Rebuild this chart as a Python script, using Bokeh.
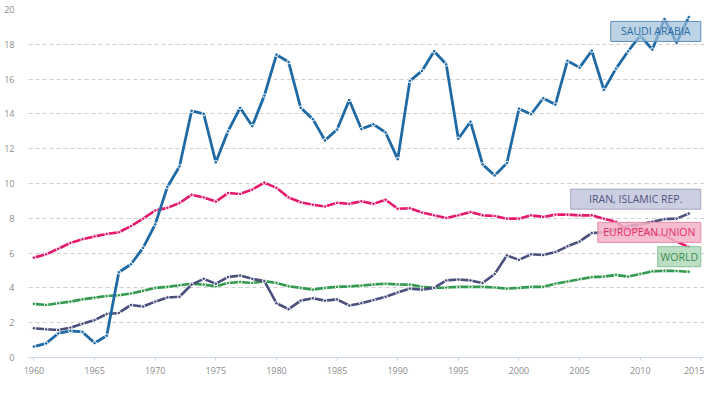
from bokeh.plotting import figure
from bokeh.models import Range1d, SingleIntervalTicker, FixedTicker
from bokeh.embed import file_html
from bokeh.resources import INLINE
from bokeh.core.properties import value

years = list(range(1960, 2015))

saudi_arabia = [0.63, 0.81, 1.38, 1.53, 1.47, 0.83, 1.25, 4.9, 5.36, 6.3,
                7.65, 9.8, 10.98, 14.17, 14.0, 11.22, 13.0, 14.35, 13.3, 15.05,
                17.4, 16.98, 14.35, 13.7, 12.48, 13.1, 14.8, 13.13, 13.4, 12.93,
                11.4, 15.9, 16.47, 17.6, 16.85, 12.57, 13.55, 11.1, 10.46, 11.17,
                14.3, 13.98, 14.9, 14.54, 17.05, 16.66, 17.63, 15.38, 16.6, 17.6,
                18.5, 17.7, 19.45, 18.08, 19.56]

european_union = [5.74, 5.93, 6.25, 6.58, 6.8, 6.96, 7.1, 7.2, 7.55, 7.98,
                  8.45, 8.6, 8.88, 9.35, 9.2, 8.96, 9.45, 9.4, 9.65, 10.05,
                  9.75, 9.2, 8.92, 8.78, 8.68, 8.89, 8.83, 8.98, 8.83, 9.07,
                  8.55, 8.58, 8.33, 8.17, 8.02, 8.17, 8.36, 8.17, 8.13, 7.98,
                  7.98, 8.17, 8.08, 8.21, 8.21, 8.17, 8.17, 7.98, 7.8, 7.3,
                  7.45, 7.1, 7.0, 6.65, 6.36]

iran = [1.68, 1.62, 1.58, 1.71, 1.94, 2.15, 2.5, 2.56, 3.02, 2.93,
        3.21, 3.45, 3.49, 4.19, 4.52, 4.24, 4.62, 4.71, 4.52, 4.39,
        3.12, 2.78, 3.27, 3.4, 3.27, 3.34, 2.99, 3.12, 3.3, 3.49,
        3.74, 3.96, 3.9, 4.0, 4.43, 4.48, 4.43, 4.28, 4.8, 5.87,
        5.61, 5.93, 5.89, 6.06, 6.39, 6.67, 7.15, 7.2, 7.35, 7.55,
        7.65, 7.8, 7.95, 7.98, 8.27]

world = [3.08, 3.02, 3.12, 3.21, 3.34, 3.44, 3.53, 3.58, 3.68, 3.83,
         4.0, 4.06, 4.15, 4.24, 4.19, 4.09, 4.28, 4.34, 4.28, 4.39,
         4.28, 4.09, 4.0, 3.9, 4.0, 4.06, 4.09, 4.13, 4.2, 4.24,
         4.2, 4.19, 4.06, 4.0, 4.02, 4.06, 4.06, 4.06, 4.02, 3.96,
         4.0, 4.06, 4.06, 4.24, 4.37, 4.5, 4.62, 4.65, 4.75, 4.65,
         4.8, 4.95, 4.99, 4.97, 4.93]

series_names = ["SAUDI ARABIA", "IRAN, ISLAMIC REP.", "EUROPEAN UNION", "WORLD"]
y_ticks = [0, 2, 4, 6, 8, 10, 12, 14, 16, 18, 20]

FONT = "Open Sans"

p = figure(width=704, height=378, output_backend="svg", toolbar_location=None,
           x_range=Range1d(1959.55, 2015.3), y_range=Range1d(0, 20),
           min_border_left=28, min_border_right=0, min_border_top=9,
           min_border_bottom=21)
p.outline_line_color = None
p.background_fill_color = "white"
p.border_fill_color = "white"

# grid
p.xgrid.visible = False
p.ygrid.ticker = FixedTicker(ticks=y_ticks)
p.ygrid.grid_line_color = "#cfcfcf"
p.ygrid.grid_line_dash = "4 3"
p.ygrid.grid_line_width = 1

# axes
p.yaxis.ticker = FixedTicker(ticks=y_ticks)
p.yaxis.axis_line_color = None
p.yaxis.major_tick_line_color = None
p.yaxis.minor_tick_line_color = None
p.yaxis.major_label_text_color = "#8c8c8c"
p.yaxis.major_label_text_font = FONT
p.yaxis.major_label_text_font_size = "9px"
p.yaxis.major_label_standoff = 8

p.xaxis.ticker = SingleIntervalTicker(interval=5, num_minor_ticks=0)
p.xaxis.axis_line_color = "#ccd6eb"
p.xaxis.major_tick_line_color = "#ccd6eb"
p.xaxis.major_tick_out = 3
p.xaxis.major_tick_in = 0
p.xaxis.minor_tick_line_color = None
p.xaxis.major_label_text_color = "#8c8c8c"
p.xaxis.major_label_text_font = FONT
p.xaxis.major_label_text_font_size = "9px"
p.xaxis.major_label_standoff = 6

styles = [
    (world, "#33994f", 2.6),
    (iran, "#4a4f7c", 2.6),
    (european_union, "#e5186d", 2.6),
    (saudi_arabia, "#1f6aa5", 2.8),
]
for vals, col, lw in styles:
    p.line(years, vals, line_color=col, line_width=lw)
    p.scatter(years, vals, size=3.6, fill_color=col, line_color="white",
              line_width=1.0, marker="circle")

# labels: (text, x-center, y-center, width px, fill, border, text color, alpha)
labels = [
    (series_names[0], 2011.28, 18.74, 90, "#9fc0dc", "#5f8fbb", "#2d6ca3", 0.7),
    (series_names[1], 2009.63, 9.10, 130, "#c3c6dc", "#a1a4bf", "#50557f", 0.85),
    (series_names[2], 2010.75, 7.19, 103, "#f4b0c7", "#e98aab", "#e0306d", 0.85),
    (series_names[3], 2013.22, 5.79, 43, "#b0d9ba", "#86c195", "#3a8b50", 0.85),
]
for txt, lx, ly, w, fill, border, tcol, a in labels:
    p.rect(x=[lx], y=[ly], width=w, height=20, width_units="screen",
           height_units="screen", fill_color=fill, fill_alpha=a,
           line_color=border, line_width=1)
    p.text(x=[lx], y=[ly], text=[txt], text_align="center",
           text_baseline="middle", text_color=tcol,
           text_font=value(FONT), text_font_size="10.5px")

open("out.html", "w").write(file_html(p, INLINE))
